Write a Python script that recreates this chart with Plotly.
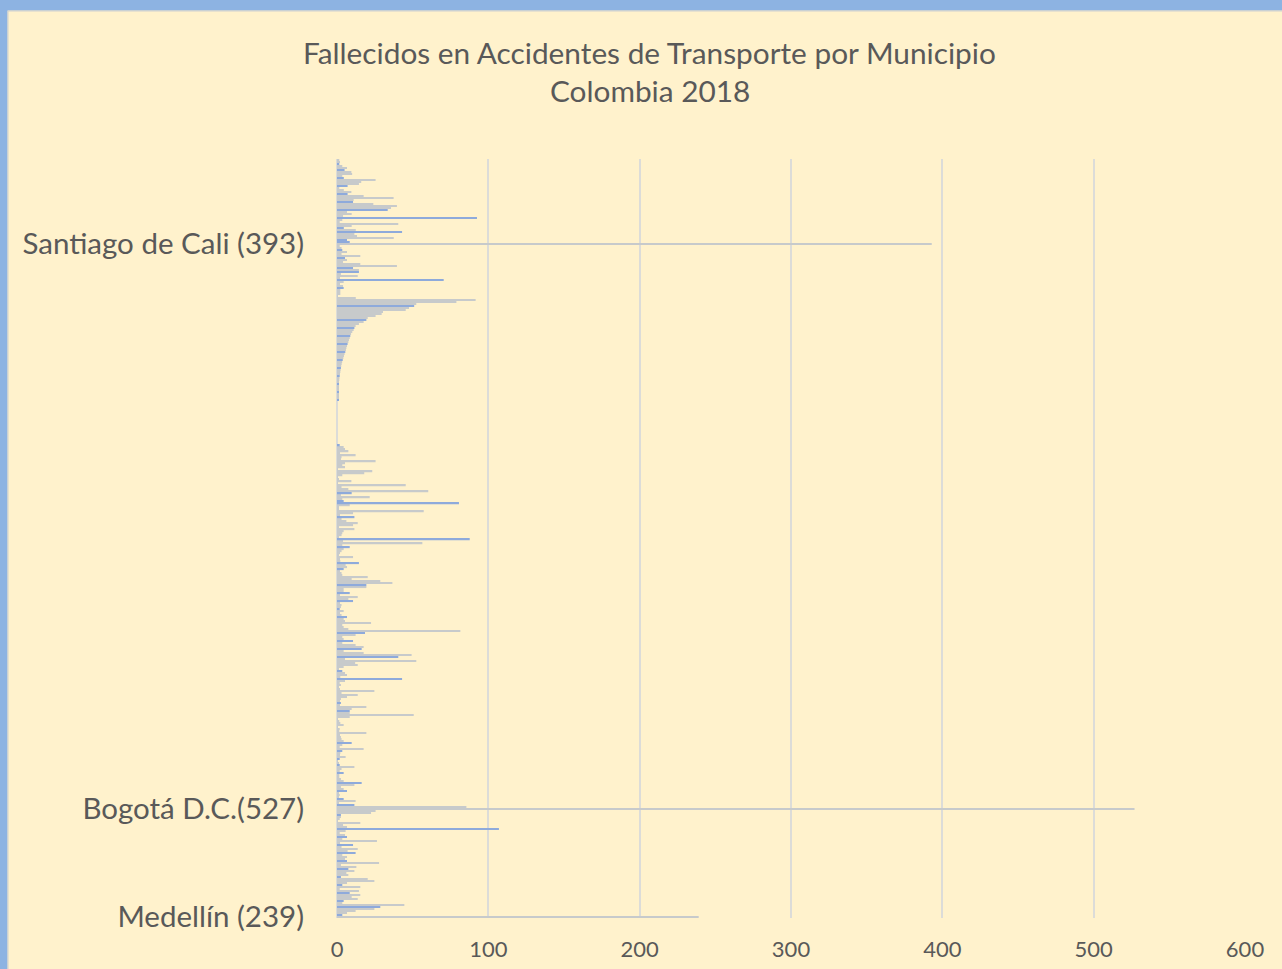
import plotly.graph_objects as go

# Fallecidos por municipio (orden de arriba hacia abajo, como en la gráfica)
fallecidos = [
    1.5, 2, 1.5, 3.5, 6.6, 5, 9.5, 10, 3.5, 4.5,
    25.5, 16, 14.5, 7, 1.5, 4.5, 9.5, 7, 17.6, 37.4,
    11, 10.6, 24, 39.6, 35.7, 33.5, 6.6, 9.7, 4, 92.5,
    3.5, 1.8, 40.5, 9.7, 4.5, 12.4, 43, 11.5, 13.2, 37.5,
    6.6, 8.4, 393, 1.8, 3, 3.5, 6.6, 3, 15.4, 5.3,
    6.6, 4, 15.4, 39.6, 10.6, 14.5, 14.5, 2.6, 13.7, 2,
    70.5, 4.4, 2, 4, 4.4, 2.2, 2.2, 2.2, 0.4, 12.4,
    91.6, 78.9, 52.4, 51, 47.6, 45.4, 30.4, 29.5, 25.5, 20.3,
    19.4, 17.6, 14.5, 12.3, 11.5, 11.0, 10.1, 9.3, 8.8, 8.4,
    7.9, 7.5, 7.0, 6.6, 6.2, 5.9, 5.5, 5.0, 4.6, 4.2,
    3.8, 3.4, 3.1, 2.8, 2.6, 2.4, 2.2, 2.0, 1.8, 1.6,
    1.5, 1.3, 1.3, 1.3, 1.3, 1.3, 1.3, 1.3, 1.3, 1.3,
    1.3, 0, 0, 0, 0, 0, 0, 0, 0, 0,
    0, 0, 0, 0, 0, 0, 0, 0, 0, 0,
    0, 0, 0, 1.8, 4.4, 5.3, 7.5, 2, 12.3, 3,
    2.6, 25.5, 5.3, 3.5, 5.3, 0.4, 23.3, 18, 3.5, 0.4,
    0.9, 9.5, 0.4, 45.4, 3, 7.5, 60.3, 9.7, 2.6, 21.6,
    3.5, 4.4, 80.6, 8.4, 1.3, 0.9, 57.3, 10.6, 2, 11.5,
    3, 6.2, 13.7, 10.6, 0.9, 11.5, 4.4, 3.5, 3, 1.3,
    87.7, 4, 56.4, 3.5, 8.4, 4.4, 3, 2, 1.3, 10.6,
    2, 2.2, 14.5, 5.7, 6.6, 4.4, 2, 3, 3.5, 20.3,
    9.7, 28.6, 36.6, 19.4, 19.4, 4.4, 4.4, 8.4, 2, 13.7,
    7.5, 10.6, 2, 3, 2.6, 1.8, 4.4, 2, 3, 6.6,
    4.4, 5.3, 22.5, 3.5, 4.4, 7.5, 81.5, 18.5, 12.3, 3.5,
    4.4, 10.6, 3.5, 12.3, 17.6, 16.3, 4.4, 17.6, 49.3, 40.5,
    5.3, 52.4, 12, 13.7, 4.4, 1.3, 3.5, 5.3, 6.6, 2.2,
    43, 5.3, 1.8, 2.6, 1.3, 2, 24.7, 3, 13.7, 6.6,
    2.6, 2, 2.6, 2, 19.4, 9.7, 8.4, 8.4, 50.7, 8.4,
    0.4, 1.5, 2.2, 4.4, 0.4, 1.8, 1.5, 19.4, 2, 2.6,
    3, 4.4, 9.7, 3.5, 1.8, 17.6, 3.5, 2.2, 2, 5.7,
    1.8, 0.4, 0.9, 1.8, 11.5, 3, 1.8, 4.4, 1.5, 1.5,
    2.6, 4.4, 16.3, 11.5, 2.6, 4.4, 6.6, 1.3, 1.8, 1,
    4.4, 12.3, 1.3, 11.5, 85.5, 527, 25.5, 22.5, 2.6, 2.6,
    1.8, 0.4, 15.4, 4, 6.6, 107, 5.7, 1.8, 5.3, 6.6,
    3.5, 26.4, 2, 10.6, 3, 13.7, 7, 12.3, 3.5, 6.6,
    5.3, 6.6, 27.8, 2.6, 12.8, 7.5, 11.5, 6.2, 7.5, 2.6,
    20.3, 24.7, 6.6, 3.5, 15.4, 1.8, 14.5, 8.4, 15.4, 9.7,
    13.7, 4.4, 3.5, 44.5, 28.6, 24.7, 12.3, 6.6, 3.5, 239,
]

# Municipios del segundo grupo (barras azules)
indices_azules = [
    2, 5, 9, 13, 17, 21, 25, 29, 34, 36, 40, 41, 45, 49, 54, 56, 60, 64,
    73, 80, 84, 88, 92, 96, 100, 104, 108, 112, 116, 120, 143, 167, 171,
    172, 179, 190, 194, 202, 205, 213, 217, 221, 225, 229, 237, 241, 245,
    249, 256, 260, 272, 276, 292, 296, 300, 303, 307, 312, 316, 320, 323,
    328, 335, 339, 343, 347, 351, 355, 359, 363, 367, 371, 374, 378,
]

etiquetas_pos = [42, 325, 379]
etiquetas_txt = ["Santiago de Cali (393)", "Bogotá D.C.(527)", "Medellín (239)"]
x_ticks = [0, 100, 200, 300, 400, 500, 600]

n = len(fallecidos)
pos = list(range(n))
azul = set(indices_azules)
gris_x = [None if i in azul else v for i, v in enumerate(fallecidos)]
azul_x = [v if i in azul else None for i, v in enumerate(fallecidos)]

# pixel -> paper helpers (plot area: x 337..1245, y 159..918)
L, R, T, B = 337, 1245, 159, 918
def px(xp):
    return (xp - L) / (R - L)
def py(yp):
    return (B - yp) / (B - T)

fig = go.Figure()
fig.add_bar(x=gris_x, y=pos, orientation="h", marker=dict(color="#c7cacb", line_width=0))
fig.add_bar(x=azul_x, y=pos, orientation="h", marker=dict(color="#8eaadb", line_width=0))

fig.update_layout(
    width=1282, height=969,
    margin=dict(l=L, r=1282 - R, t=T, b=969 - B, pad=0, autoexpand=False),
    paper_bgcolor="#fff2cc", plot_bgcolor="#fff2cc",
    barmode="overlay", bargap=0.35, showlegend=False,
    font=dict(family="Lato", color="#595959"),
    xaxis=dict(range=[0, 600], tickvals=x_ticks, showgrid=True, gridcolor="#dcdcd8",
               gridwidth=2, zeroline=True, zerolinecolor="#dcdcd8", zerolinewidth=2,
               showline=False, ticks="outside", ticklen=12, tickcolor="rgba(0,0,0,0)",
               automargin=False, tickfont=dict(size=22, color="#595959")),
    yaxis=dict(range=[n - 0.5, -0.5], tickvals=etiquetas_pos, ticktext=etiquetas_txt,
               showgrid=False, zeroline=False, showline=False, ticks="outside",
               ticklen=26, tickcolor="rgba(0,0,0,0)", automargin=False,
               tickfont=dict(size=29.5, color="#595959")),
    annotations=[
        dict(text="Fallecidos en Accidentes de Transporte por Municipio", xref="paper", yref="paper",
             x=px(649.5), y=py(52), xanchor="center", yanchor="middle", showarrow=False,
             font=dict(size=29.8, color="#595959")),
        dict(text="Colombia 2018", xref="paper", yref="paper",
             x=px(649.5), y=py(91), xanchor="center", yanchor="middle", showarrow=False,
             font=dict(size=29.8, color="#595959")),
    ],
    shapes=[
        dict(type="rect", xref="paper", yref="paper", x0=px(-5), x1=px(7.5), y0=py(980), y1=py(-5),
             fillcolor="#8db3e2", line_width=0, layer="above"),
        dict(type="rect", xref="paper", yref="paper", x0=px(-5), x1=px(1290), y0=py(10.5), y1=py(-5),
             fillcolor="#8db3e2", line_width=0, layer="above"),
        dict(type="line", xref="paper", yref="paper", x0=px(8), x1=px(8), y0=py(11), y1=py(980),
             line=dict(color="#cfcfcf", width=1), layer="above"),
        dict(type="line", xref="paper", yref="paper", x0=px(8), x1=px(1290), y0=py(11), y1=py(11),
             line=dict(color="#cfcfcf", width=1), layer="above"),
    ],
)

fig.write_html("out.html", config={"displayModeBar": False},
               post_script="document.body.style.margin='0px';")
